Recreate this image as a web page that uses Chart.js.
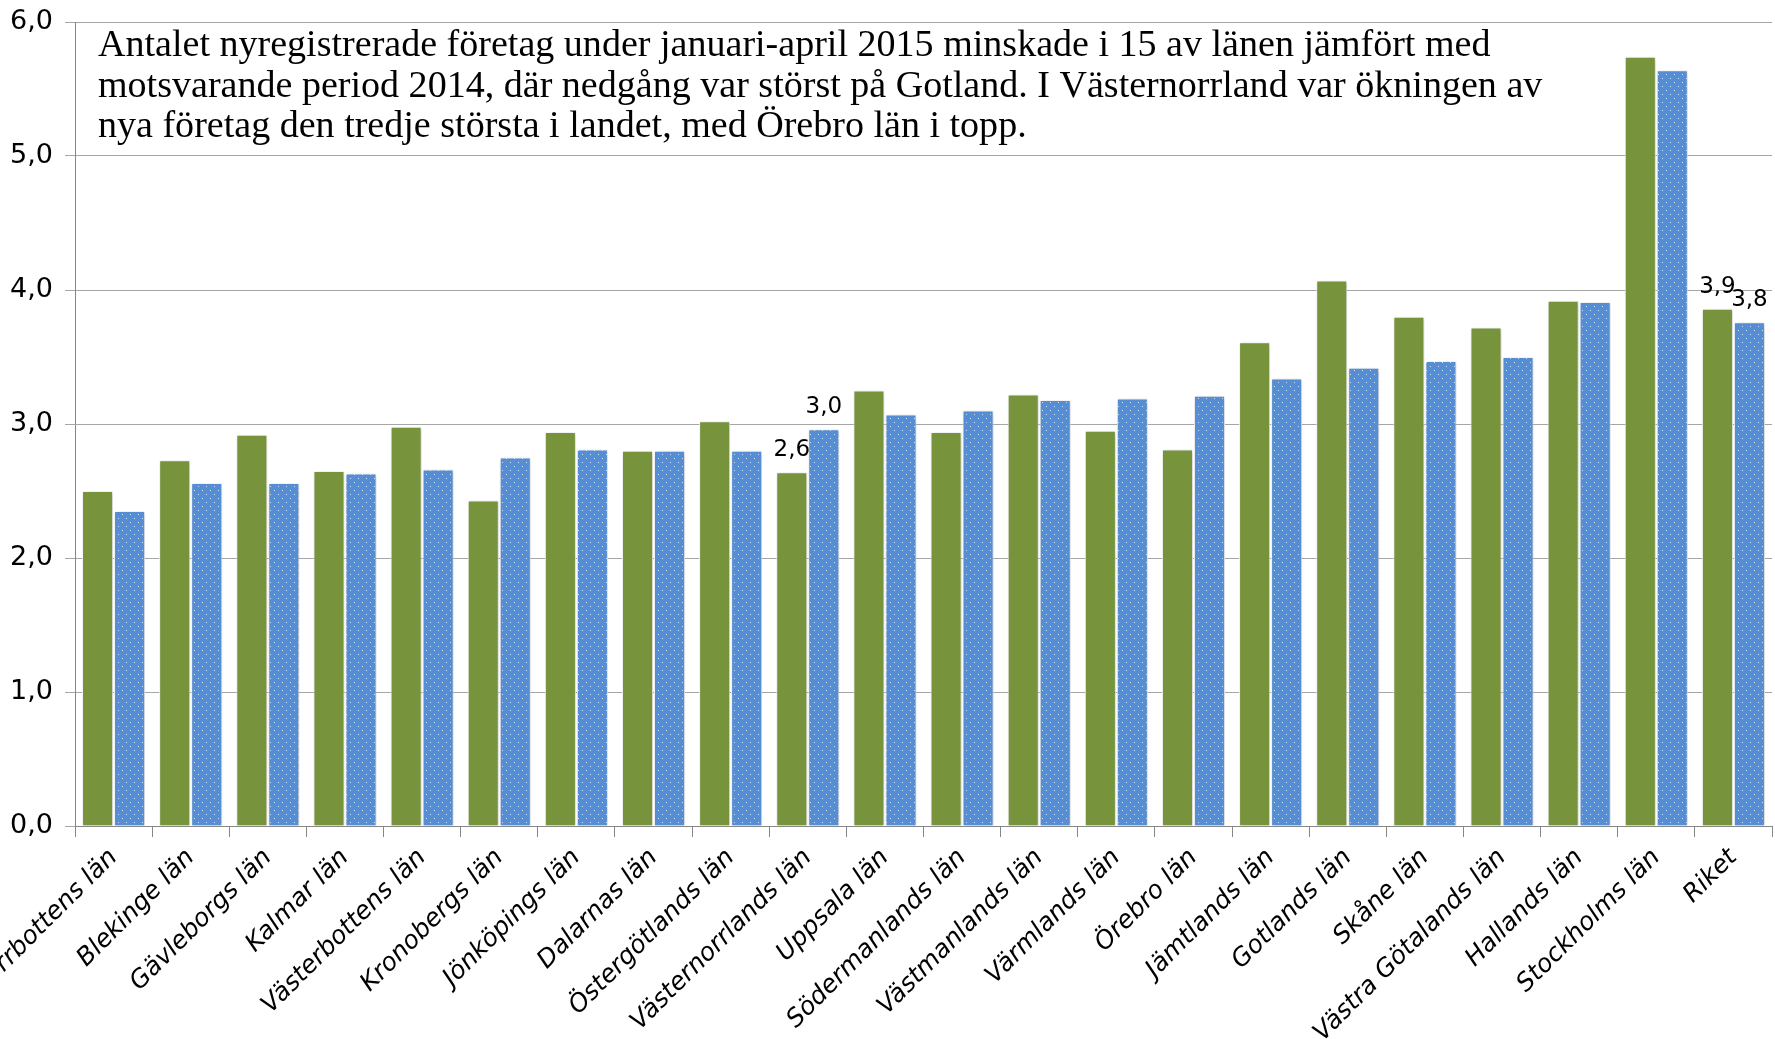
<!DOCTYPE html>
<html>
<head>
<meta charset="utf-8">
<script src="https://cdn.jsdelivr.net/npm/chart.js@4.4.1/dist/chart.umd.min.js"></script>
<style>
  html, body { margin: 0; padding: 0; background: #fff; }
  #ram { width: 1775px; height: 1039px; }
</style>
</head>
<body>
<div id="ram"><canvas id="graficoLan"></canvas></div>
<script>
const lan = [
  "Norrbottens län", "Blekinge län", "Gävleborgs län", "Kalmar län", "Västerbottens län",
  "Kronobergs län", "Jönköpings län", "Dalarnas län", "Östergötlands län", "Västernorrlands län",
  "Uppsala län", "Södermanlands län", "Västmanlands län", "Värmlands län", "Örebro län",
  "Jämtlands län", "Gotlands län", "Skåne län", "Västra Götalands län", "Hallands län",
  "Stockholms län", "Riket"
];
const ar2014 = [2.50, 2.73, 2.92, 2.65, 2.98, 2.43, 2.94, 2.80, 3.02, 2.64, 3.25, 2.94, 3.22, 2.95, 2.81, 3.61, 4.07, 3.80, 3.72, 3.92, 5.74, 3.86];
const ar2015 = [2.35, 2.56, 2.56, 2.63, 2.66, 2.75, 2.81, 2.80, 2.80, 2.96, 3.07, 3.10, 3.18, 3.19, 3.21, 3.34, 3.42, 3.47, 3.50, 3.91, 5.64, 3.76];
const yTicks = [0, 1, 2, 3, 4, 5, 6];
// [serie, index] som får värdeetikett
const visaEtikett = [[0, 9], [1, 9], [0, 21], [1, 21]];
const textRader = [
  "Antalet nyregistrerade företag under januari-april 2015 minskade i 15 av länen jämfört med",
  "motsvarande period 2014, där nedgång var störst på Gotland. I Västernorrland var ökningen av",
  "nya företag den tredje största i landet, med Örebro län i topp."
];

function kommatal(v) {
  return Number(v).toFixed(1).replace(".", ",");
}

function prickMonster() {
  const c = document.createElement("canvas");
  c.width = 8;
  c.height = 8;
  const g = c.getContext("2d");
  g.fillStyle = "#558ed5";
  g.fillRect(0, 0, 8, 8);
  g.fillStyle = "#cfe0f6";
  g.fillRect(2, 2, 1, 1);
  g.fillRect(6, 6, 1, 1);
  return g.createPattern(c, "repeat");
}

const skugga = {
  id: "skugga",
  beforeDatasetsDraw(chart) {
    const ctx = chart.ctx;
    ctx.save();
    ctx.shadowColor = "rgba(0,0,0,0.22)";
    ctx.shadowBlur = 4;
    ctx.shadowOffsetX = 1;
    ctx.shadowOffsetY = 1;
  },
  afterDatasetsDraw(chart) {
    chart.ctx.restore();
  }
};

const etiketter = {
  id: "etiketter",
  afterDraw(chart) {
    const ctx = chart.ctx;
    ctx.save();
    ctx.fillStyle = "#000";
    ctx.font = '23px "DejaVu Sans"';
    ctx.textAlign = "center";
    ctx.textBaseline = "alphabetic";
    visaEtikett.forEach(function (p) {
      const bar = chart.getDatasetMeta(p[0]).data[p[1]];
      const v = chart.data.datasets[p[0]].data[p[1]];
      ctx.fillText(kommatal(v), bar.x, bar.y - 16);
    });

    // textrutan, skalad till samma bredd som originalet
    let storlek = 34;
    ctx.font = storlek + 'px "Liberation Serif"';
    const bredd = ctx.measureText(textRader[0]).width;
    storlek = storlek * 1393 / bredd;
    ctx.font = storlek.toFixed(2) + 'px "Liberation Serif"';
    ctx.textAlign = "left";
    textRader.forEach(function (rad, i) {
      ctx.fillText(rad, 98, 56 + i * 40.7);
    });
    ctx.restore();
  }
};

Chart.defaults.font.family = '"DejaVu Sans"';
Chart.defaults.color = "#000";

const ctx = document.getElementById("graficoLan").getContext("2d");

const grafico = new Chart(ctx, {
  type: "bar",
  data: {
    labels: lan,
    datasets: [
      {
        label: "Januari-april 2014",
        data: ar2014,
        backgroundColor: "#77933c",
        borderColor: "#ffffff",
        borderWidth: 1,
        categoryPercentage: 0.83,
        barPercentage: 0.97
      },
      {
        label: "Januari-april 2015",
        data: ar2015,
        backgroundColor: prickMonster(),
        borderColor: "#ffffff",
        borderWidth: 1,
        categoryPercentage: 0.83,
        barPercentage: 0.97
      }
    ]
  },
  options: {
    responsive: true,
    maintainAspectRatio: false,
    animation: false,
    devicePixelRatio: 1,
    layout: { padding: { top: 22, right: 3, left: 0, bottom: 0 } },
    plugins: {
      legend: { display: false },
      tooltip: { enabled: false }
    },
    scales: {
      x: {
        grid: {
          drawOnChartArea: false,
          drawTicks: true,
          tickLength: 11,
          color: "#868686"
        },
        border: { color: "#868686", width: 1 },
        ticks: {
          autoSkip: false,
          minRotation: 45,
          maxRotation: 45,
          padding: 6,
          font: { size: 25, style: "italic" }
        },
        afterFit: function (s) {
          s.height = 213;
          s.paddingLeft = 0;
          s.paddingRight = 0;
        }
      },
      y: {
        min: 0,
        max: 6,
        afterBuildTicks: function (s) {
          s.ticks = yTicks.map(function (v) { return { value: v }; });
        },
        grid: {
          color: "#a6a6a6",
          tickLength: 10
        },
        border: { color: "#868686", width: 1 },
        ticks: {
          padding: 12,
          font: { size: 27 },
          callback: function (v) { return kommatal(v); }
        },
        afterFit: function (s) {
          s.width = 75;
          s.paddingTop = 0;
          s.paddingBottom = 0;
        }
      }
    }
  },
  plugins: [skugga, etiketter]
});
</script>
</body>
</html>
